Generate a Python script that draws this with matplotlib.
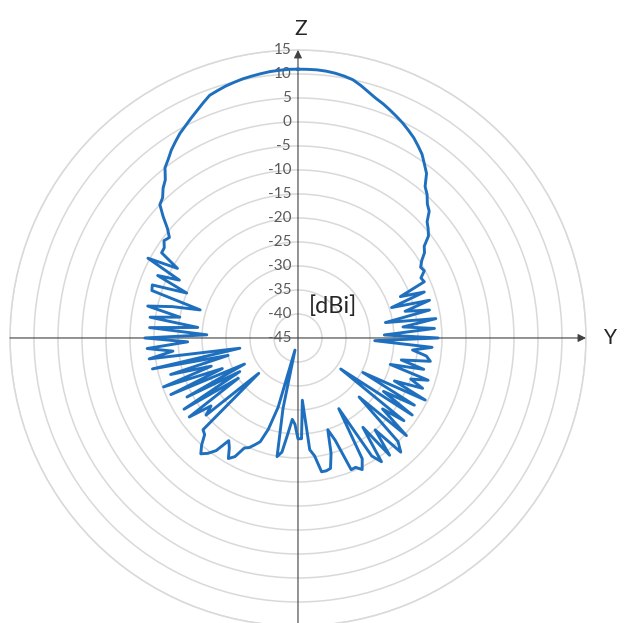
import numpy as np
import matplotlib.pyplot as plt

plt.rcParams["font.family"] = ["Lato", "DejaVu Sans"]

# gain pattern in the Y-Z plane, angle measured from +Z towards +Y (deg)
angle_deg = np.arange(0, 360, 2)
gain_dbi = [
    11.0, 11.0, 11.0, 10.9, 10.7, 10.4, 10.0, 9.2, 8.3, 7.5,
    6.9, 6.2, 5.5, 4.8, 4.0, 3.2, 2.2, 1.2, -0.2, -1.5,
    -3.8, -4.8, -6.2, -7.0, -8.8, -9.6, -10.5, -12.5, -13.2, -14.6,
    -15.5, -15.2, -16.5, -16.2, -22, -17, -24.5, -16.5, -22, -17,
    -26.5, -16, -23, -16.5, -27, -15.8, -29, -17, -21, -18,
    -17, -23, -18, -25, -16.5, -20, -17, -23, -15.5, -29.7,
    -17, -24, -16.3, -34, -17, -22, -14.6, -27.3, -15, -13,
    -20, -14, -22, -13.9, -16, -28, -16.5, -14.5, -15.5, -15.4,
    -22.3, -24.9, -20, -17, -16.7, -16.7, -20.2, -21.6, -32, -24,
    -24, -27, -28, -25, -21, -19.9, -30, -42.4, -30, -25,
    -22, -21, -20, -19.5, -17, -16, -18, -19.2, -16, -14.5,
    -13.5, -15, -17, -17.5, -34, -20, -22, -17, -30, -17,
    -31, -18.8, -32.6, -16, -28, -15.2, -26, -17.4, -30, -14,
    -32.7, -13.7, -18.8, -13.5, -22, -13.1, -26, -14, -24, -13.9,
    -20, -13, -18, -23.8, -13, -12.7, -20, -13, -17.5, -9.6,
    -16, -11.5, -11.4, -10.5, -11, -9.5, -7.2, -5.0, -4.4, -3.0,
    -2.0, 0.0, 1.0, 2.2, 3.2, 4.2, 5.0, 5.9, 6.8, 7.8,
    8.8, 9.2, 9.6, 9.9, 10.2, 10.4, 10.6, 10.8, 10.9, 11.0,
]
ring_values = [-45, -40, -35, -30, -25, -20, -15, -10, -5, 0, 5, 10, 15]

R_MIN, R_MAX = -45, 15
TEXT = "#595959"

fig = plt.figure(figsize=(6.32, 6.23), dpi=100)
ax = fig.add_axes([0.0158, -0.0048, 0.9114, 0.9246], projection="polar")
ax.set_theta_zero_location("N")
ax.set_theta_direction(-1)
ax.set_rlim(R_MIN, R_MAX)

ax.set_xticks([])
ax.set_rticks(ring_values[1:])
ax.set_yticklabels([])
ax.yaxis.grid(True, color="#d9d9d9", linewidth=1.1)
ax.xaxis.grid(False)
ax.spines["polar"].set_color("#d9d9d9")
ax.spines["polar"].set_linewidth(1.1)

# axis lines with arrows
ax.annotate("", xy=(np.pi / 2, R_MAX), xytext=(3 * np.pi / 2, R_MAX),
            arrowprops=dict(arrowstyle="-|>", color="#404040", lw=0.8,
                            mutation_scale=12, shrinkA=0, shrinkB=0),
            annotation_clip=False)
ax.annotate("", xy=(0, R_MAX), xytext=(np.pi, R_MAX + 1),
            arrowprops=dict(arrowstyle="-|>", color="#404040", lw=0.8,
                            mutation_scale=12, shrinkA=0, shrinkB=0),
            annotation_clip=False)

# ring labels along the Z axis
for v in ring_values:
    ax.annotate(str(v), xy=(0, v), xytext=(-5, 0), textcoords="offset points",
                ha="right", va="center", fontsize=11, color=TEXT,
                annotation_clip=False)

theta = np.deg2rad(np.append(angle_deg, 360))
r = np.append(gain_dbi, gain_dbi[0])
ax.plot(theta, r, color="#1f6fbf", linewidth=2.1, solid_joinstyle="round", zorder=5)

ax.annotate("Z", xy=(0, R_MAX), xytext=(2, 8), textcoords="offset points",
            ha="center", va="bottom", fontsize=15, color="#262626",
            annotation_clip=False)
ax.annotate("Y", xy=(np.pi / 2, R_MAX), xytext=(13, 0), textcoords="offset points",
            ha="left", va="center", fontsize=15, color="#262626",
            annotation_clip=False)
fig.text(0.527, 0.509, "[dBi]", ha="center", va="center", fontsize=17, color="#262626")

fig.savefig("out.png", dpi=100)
